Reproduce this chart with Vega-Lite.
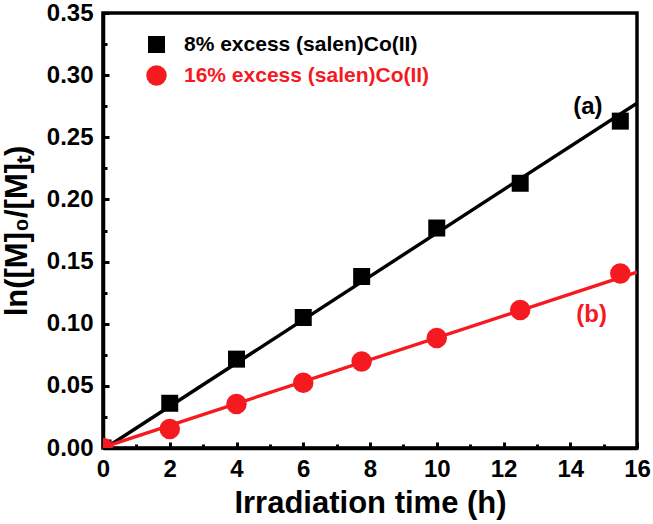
{
  "$schema": "https://vega.github.io/schema/vega-lite/v6.json",
  "width": 534,
  "height": 435,
  "autosize": {"type": "none"},
  "padding": {"left": 103, "top": 13, "right": 16, "bottom": 76},
  "background": "white",
  "config": {
    "view": {"stroke": "black", "strokeWidth": 3.5},
    "font": "Liberation Sans",
    "axis": {
      "labelFont": "Liberation Sans", "labelFontWeight": "bold", "labelFontSize": 24, "labelColor": "black",
      "titleFont": "Liberation Sans", "titleFontWeight": "bold", "titleFontSize": 31, "titleColor": "black",
      "domainColor": "black", "domainWidth": 3.5, "tickColor": "black", "tickWidth": 3, "grid": false,
      "labelFlush": false
    }
  },
  "datasets": {
    "points": [
      {"series": "8% excess (salen)Co(II)", "t": 0, "v": 0},
      {"series": "8% excess (salen)Co(II)", "t": 2, "v": 0.036},
      {"series": "8% excess (salen)Co(II)", "t": 4, "v": 0.0715},
      {"series": "8% excess (salen)Co(II)", "t": 6, "v": 0.105},
      {"series": "8% excess (salen)Co(II)", "t": 7.75, "v": 0.138},
      {"series": "8% excess (salen)Co(II)", "t": 10, "v": 0.177},
      {"series": "8% excess (salen)Co(II)", "t": 12.5, "v": 0.213},
      {"series": "8% excess (salen)Co(II)", "t": 15.5, "v": 0.263},
      {"series": "16% excess (salen)Co(II)", "t": 0, "v": 0},
      {"series": "16% excess (salen)Co(II)", "t": 2, "v": 0.0153},
      {"series": "16% excess (salen)Co(II)", "t": 4, "v": 0.0354},
      {"series": "16% excess (salen)Co(II)", "t": 6, "v": 0.0525},
      {"series": "16% excess (salen)Co(II)", "t": 7.75, "v": 0.0695},
      {"series": "16% excess (salen)Co(II)", "t": 10, "v": 0.0885},
      {"series": "16% excess (salen)Co(II)", "t": 12.5, "v": 0.111},
      {"series": "16% excess (salen)Co(II)", "t": 15.5, "v": 0.1405}
    ],
    "fits": [
      {"series": "a", "t": 0.25, "v": 0.003},
      {"series": "a", "t": 16, "v": 0.2775},
      {"series": "b", "t": 0, "v": 0.0005},
      {"series": "b", "t": 16, "v": 0.1415}
    ],
    "labels": [
      {"series": "a", "t": 14.53, "v": 0.2743, "label": "(a)"},
      {"series": "b", "t": 14.64, "v": 0.107, "label": "(b)"}
    ]
  },
  "layer": [
    {
      "data": {"name": "fits"},
      "transform": [{"filter": "datum.series === 'a'"}],
      "mark": {"type": "line", "strokeWidth": 3.4, "clip": true, "color": "black"},
      "encoding": {
        "x": {"field": "t", "type": "quantitative",
          "scale": {"domain": [0, 16], "nice": false, "zero": false},
          "axis": {"orient": "bottom", "values": [0, 2, 4, 6, 8, 10, 12, 14, 16], "format": "d", "tickSize": -6, "labelPadding": 15, "title": "Irradiation time (h)", "titlePadding": 7}},
        "y": {"field": "v", "type": "quantitative",
          "scale": {"domain": [0, 0.35], "nice": false, "zero": false},
          "axis": {"orient": "left", "values": [0, 0.05, 0.1, 0.15, 0.2, 0.25, 0.3, 0.35], "format": ".2f", "tickSize": -6, "labelPadding": 16, "title": "ln([M]₀/[M]ₜ)", "titlePadding": 13}}
      }
    },
    {
      "data": {"name": "fits"},
      "transform": [{"filter": "datum.series === 'b'"}],
      "mark": {"type": "line", "strokeWidth": 3.4, "clip": true, "color": "#f51a1f"},
      "encoding": {
        "x": {"field": "t", "type": "quantitative", "axis": null},
        "y": {"field": "v", "type": "quantitative", "axis": null}
      }
    },
    {
      "data": {"name": "points"},
      "mark": {"type": "point", "filled": true, "opacity": 1, "clip": true},
      "encoding": {
        "x": {"field": "t", "type": "quantitative",
          "axis": {"orient": "bottom", "values": [1, 3, 5, 7, 9, 11, 13, 15], "labels": false, "domain": false, "tickSize": -4, "title": null}},
        "y": {"field": "v", "type": "quantitative",
          "axis": {"orient": "left", "values": [0.025, 0.075, 0.125, 0.175, 0.225, 0.275, 0.325], "labels": false, "domain": false, "tickSize": -4, "title": null}},
        "color": {"field": "series", "type": "nominal",
          "scale": {"domain": ["8% excess (salen)Co(II)", "16% excess (salen)Co(II)"], "range": ["black", "#f51a1f"]},
          "legend": {
            "title": null, "orient": "none", "legendX": 43, "legendY": 21,
            "labelFont": "Liberation Sans", "labelFontSize": 21, "labelFontWeight": "bold", "labelLimit": 500,
            "rowPadding": 9, "labelOffset": 17, "symbolStrokeWidth": 0,
            "labelColor": {"expr": "datum.value === '16% excess (salen)Co(II)' ? '#f51a1f' : 'black'"}
          }},
        "shape": {"field": "series", "type": "nominal",
          "scale": {"domain": ["8% excess (salen)Co(II)", "16% excess (salen)Co(II)"], "range": ["square", "circle"]},
          "legend": {"title": null, "labelLimit": 500,
            "labelColor": {"expr": "datum.value === '16% excess (salen)Co(II)' ? '#f51a1f' : 'black'"}}},
        "size": {"field": "series", "type": "nominal",
          "scale": {"domain": ["8% excess (salen)Co(II)", "16% excess (salen)Co(II)"], "range": [289, 420]},
          "legend": {"title": null, "labelLimit": 500,
            "labelColor": {"expr": "datum.value === '16% excess (salen)Co(II)' ? '#f51a1f' : 'black'"}}}
      }
    },
    {
      "data": {"name": "labels"},
      "transform": [{"filter": "datum.series === 'a'"}],
      "mark": {"type": "text", "font": "Liberation Sans", "fontSize": 24, "fontWeight": "bold", "color": "black"},
      "encoding": {
        "x": {"field": "t", "type": "quantitative", "axis": null},
        "y": {"field": "v", "type": "quantitative", "axis": null},
        "text": {"field": "label"}
      }
    },
    {
      "data": {"name": "labels"},
      "transform": [{"filter": "datum.series === 'b'"}],
      "mark": {"type": "text", "font": "Liberation Sans", "fontSize": 24, "fontWeight": "bold", "color": "#f51a1f"},
      "encoding": {
        "x": {"field": "t", "type": "quantitative", "axis": null},
        "y": {"field": "v", "type": "quantitative", "axis": null},
        "text": {"field": "label"}
      }
    }
  ],
  "resolve": {"axis": {"x": "independent", "y": "independent"}}
}
